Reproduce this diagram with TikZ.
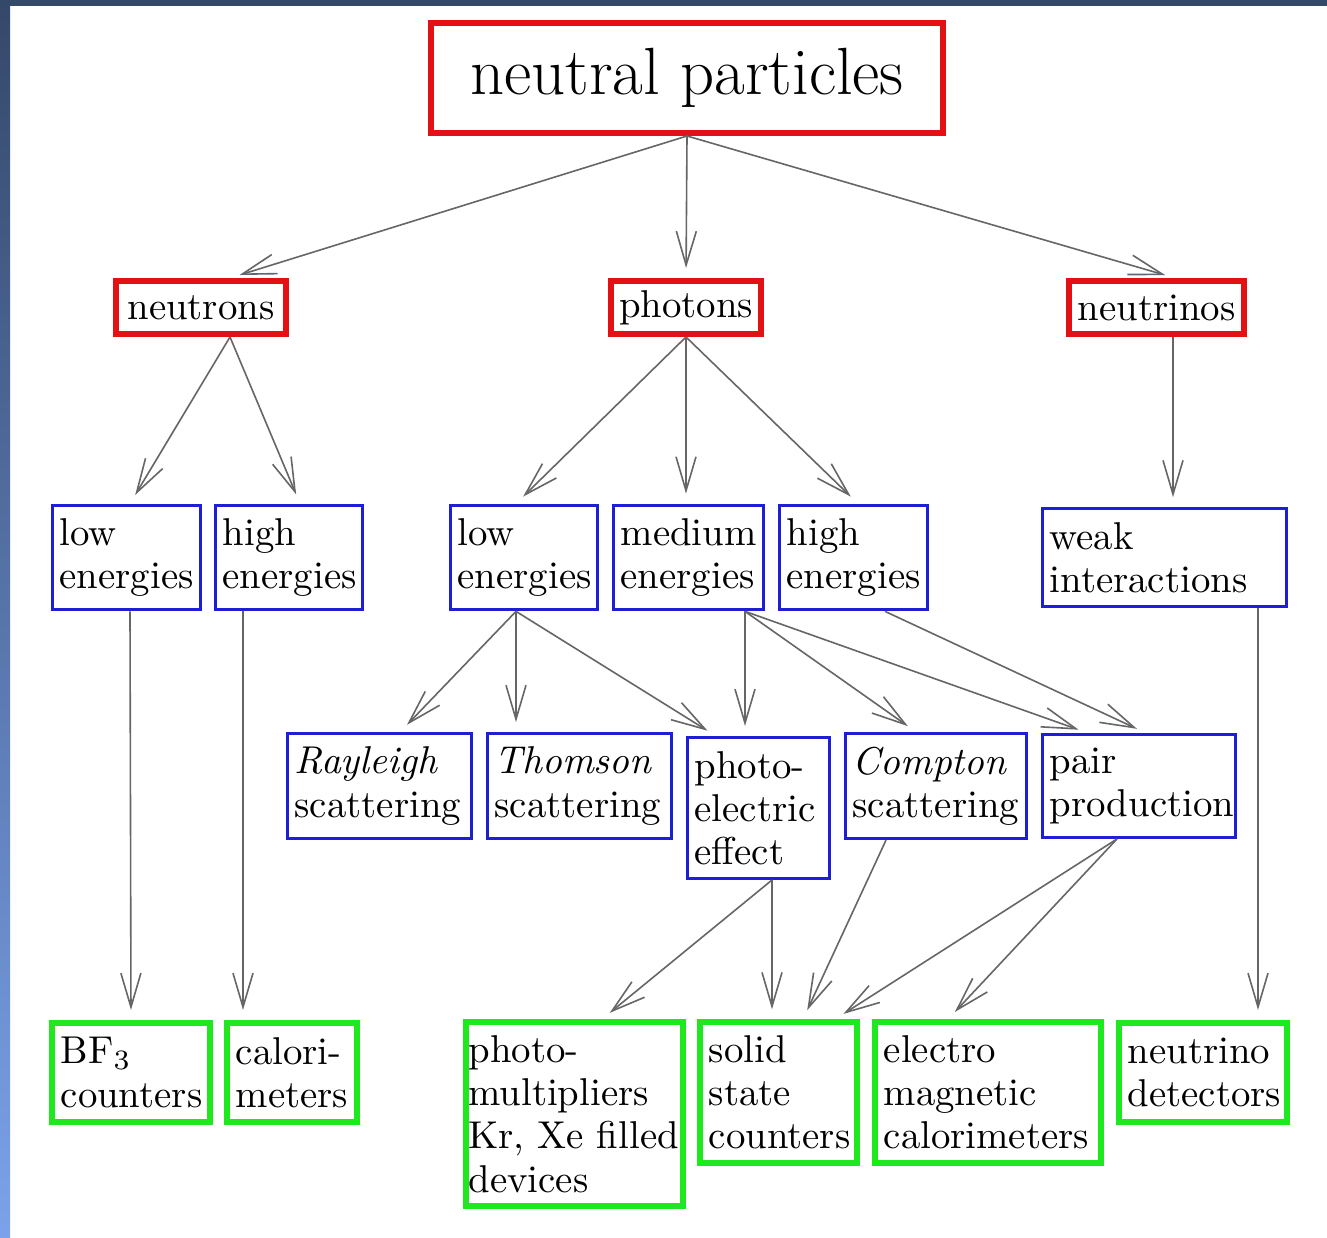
\documentclass[tikz,border=0pt]{standalone}
\usetikzlibrary{arrows.meta,calc}
\definecolor{boxred}{RGB}{228,16,20}
\definecolor{boxblue}{RGB}{30,30,215}
\definecolor{boxgreen}{RGB}{30,232,30}
\definecolor{framedark}{RGB}{52,72,106}
\definecolor{framelight}{RGB}{123,162,234}
\begin{document}
\begin{tikzpicture}[x=0.25pt,y=-0.25pt,
    txt/.style={font=\fontsize{9.7}{10.8}\selectfont},
    redbox/.style={draw=boxred,line width=1.5pt,txt,minimum height=13.25pt,inner sep=0pt},
    bluebox/.style={draw=boxblue,line width=.75pt,txt,align=left,text width=#1,inner xsep=1.8pt,minimum height=24.4pt},
    greenbox/.style={draw=boxgreen,line width=1.5pt,txt,align=left,text width=#1,inner xsep=2.2pt,minimum height=24.75pt},
    arr/.style={draw=black!60,line width=.4pt,-{Straight Barb[length=8.5pt,width=5pt]},shorten >=2.5pt}]
  % frame
  \fill[white] (0,0) rectangle (1327,1238);
  \shade[top color=framedark,bottom color=framelight] (0,0) rectangle (10,1238);
  \fill[framedark] (0,0) rectangle (1327,6);
  % top level
  \node[redbox,minimum width=128pt,minimum height=27.5pt,font=\fontsize{16.7}{20}\selectfont] (neutral) at (687,78) {neutral particles};
  \node[redbox,minimum width=42.5pt] (neutrons) at (201,307.5) {neutrons};
  \node[redbox,minimum width=37.5pt] (photons) at (686,307.5) {photons};
  \node[redbox,minimum width=43.75pt] (neutrinos) at (1156.5,307.5) {neutrinos};
  % energies
  \node[bluebox=33.4pt] (nlow) at (126.5,557.5) {low\\energies};
  \node[bluebox=33.15pt] (nhigh) at (289,557.5) {high\\energies};
  \node[bluebox=33.15pt] (plow) at (524,557.5) {low\\energies};
  \node[bluebox=33.9pt] (pmed) at (688.5,557.5) {medium\\energies};
  \node[bluebox=33.4pt] (phigh) at (853.5,557.5) {high\\energies};
  \node[bluebox=57.4pt] (weak) at (1164.5,557.5) {weak\\interactions};
  % processes
  \node[bluebox=42.4pt] (rayleigh) at (379.5,786) {\textit{Rayleigh}\\scattering};
  \node[bluebox=42.4pt] (thomson) at (579.5,786) {\textit{Thomson}\\scattering};
  \node[bluebox=31.9pt,minimum height=35.25pt] (photoel) at (758.5,808) {photo-\\electric\\effect};
  \node[bluebox=41.65pt] (compton) at (936,786) {\textit{Compton}\\scattering};
  \node[bluebox=44.65pt] (pair) at (1139,786) {pair\\production};
  % detectors
  \node[greenbox=35.1pt] (bf) at (131,1072.5) {BF$_3$\\counters};
  \node[greenbox=28.1pt] (calo) at (292,1072.5) {calori-\\meters};
  \node[greenbox=53pt,inner xsep=0.6pt,minimum height=45.5pt] (pmt) at (574.5,1114) {photo-\\multipliers\\Kr, Xe filled\\devices};
  \node[greenbox=34.85pt,minimum height=34.75pt] (solid) at (778.5,1092.5) {solid\\state\\counters};
  \node[greenbox=52.1pt,minimum height=34.75pt] (emcal) at (988,1092.5) {electro\\magnetic\\calorimeters};
  \node[greenbox=37.6pt] (nudet) at (1203,1072.5) {neutrino\\detectors};
  % arrows
  \draw[arr] (neutral.south) -- ($(neutrons.north)+(29,0)$);
  \draw[arr] (neutral.south) -- (photons.north);
  \draw[arr] (neutral.south) -- ($(neutrinos.north)+(18.5,0)$);
  \draw[arr] ($(neutrons.south)+(29,0)$) -- ($(nlow.north)+(3.5,0)$);
  \draw[arr] ($(neutrons.south)+(29,0)$) -- ($(nhigh.north)+(11,0)$);
  \draw[arr] (photons.south) -- ($(plow.north)+(-8,0)$);
  \draw[arr] (photons.south) -- ($(pmed.north)+(-2.5,0)$);
  \draw[arr] (photons.south) -- ($(phigh.north)+(4.5,0)$);
  \draw[arr] ($(neutrinos.south)+(16.5,0)$) -- ($(weak.north)+(8.5,0)$);
  \draw[arr] ($(nlow.south)+(3.5,0)$) -- (bf.north);
  \draw[arr] ($(nhigh.south)+(-46,0)$) -- ($(calo.north)+(-49,0)$);
  \draw[arr] ($(plow.south)+(-8,0)$) -- ($(rayleigh.north)+(20.5,0)$);
  \draw[arr] ($(plow.south)+(-8,0)$) -- ($(thomson.north)+(-63.5,0)$);
  \draw[arr] ($(plow.south)+(-8,0)$) -- ($(photoel.north)+(-42.5,0)$);
  \draw[arr] ($(pmed.south)+(56.5,0)$) -- ($(photoel.north)+(-13.5,0)$);
  \draw[arr] ($(pmed.south)+(56.5,0)$) -- ($(compton.north)+(-20,0)$);
  \draw[arr] ($(pmed.south)+(56.5,0)$) -- ($(pair.north)+(-51,0)$);
  \draw[arr] ($(phigh.south)+(31.5,0)$) -- ($(pair.north)+(7,0)$);
  \draw[arr] ($(weak.south)+(93.5,0)$) -- ($(nudet.north)+(55,0)$);
  \draw[arr] ($(photoel.south)+(13.5,0)$) -- ($(pmt.north)+(27.5,0)$);
  \draw[arr] ($(photoel.south)+(13.5,0)$) -- ($(solid.north)+(-6.5,0)$);
  \draw[arr] ($(compton.south)+(-50,0)$) -- ($(solid.north)+(24.5,0)$);
  \draw[arr] ($(pair.south)+(-22,0)$) -- ($(solid.north)+(56.5,0)$);
  \draw[arr] ($(pair.south)+(-22,0)$) -- ($(emcal.north)+(-40,0)$);
\end{tikzpicture}
\end{document}
